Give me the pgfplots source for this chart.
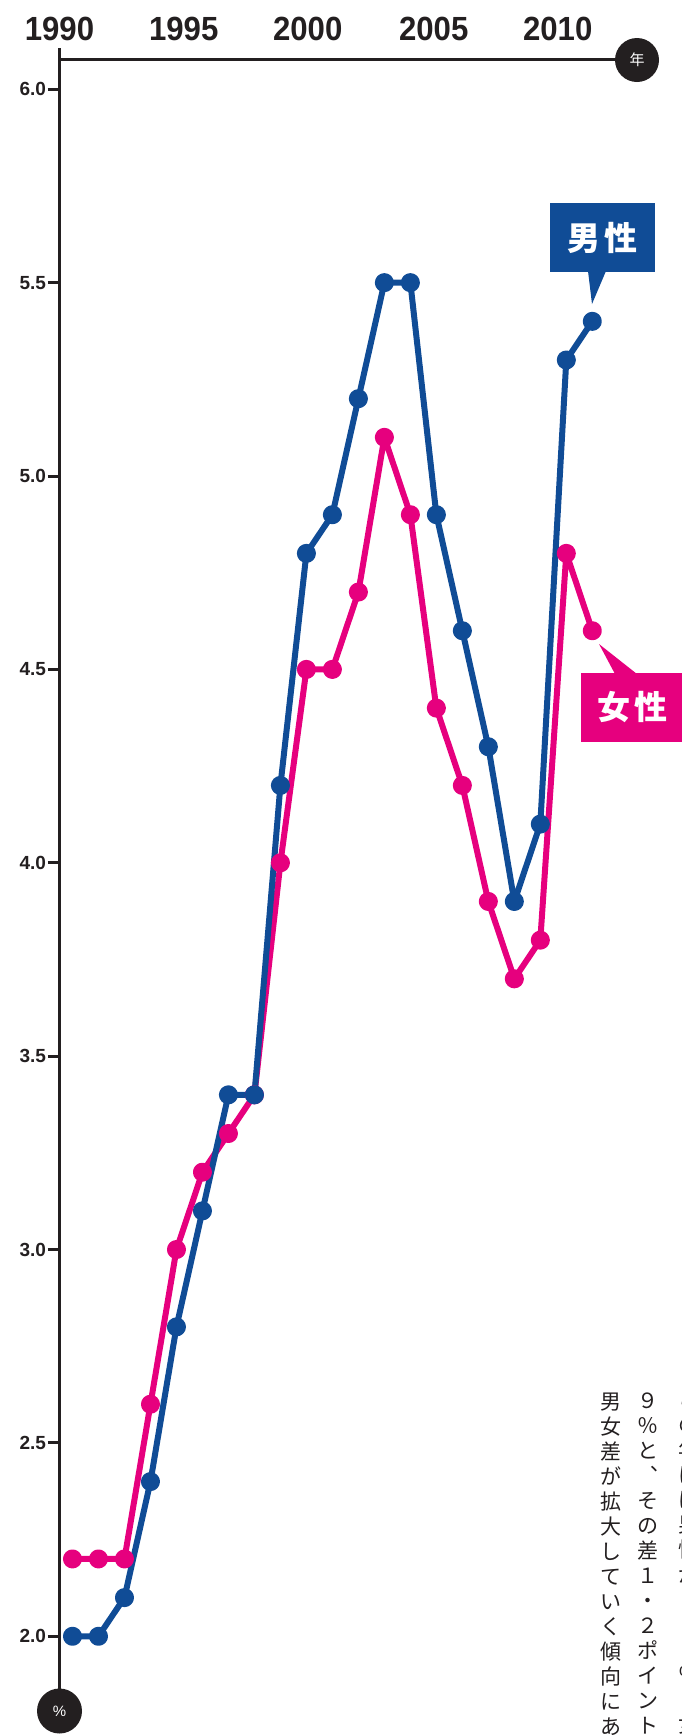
\documentclass[border=0pt]{standalone}
\usepackage{fontspec}
\usepackage{pgfplots}
\pgfplotsset{compat=1.18}
\setmainfont{Liberation Sans}
\newfontfamily\din{Liberation Sans}[FakeStretch=0.93]
\newfontfamily\jp{Noto Sans CJK JP}
\definecolor{mblue}{RGB}{16,76,150}
\definecolor{fpink}{RGB}{230,0,126}
\definecolor{ink}{RGB}{35,31,32}
\begin{document}
\begin{tikzpicture}
\useasboundingbox (0,0) rectangle (681pt,-1735pt);
\begin{axis}[
  at={(59.24pt,-59.5pt)}, anchor=north west,
  x=25.99pt, y=386.75pt,
  xmin=1989.49, xmax=2012.5, ymin=1.8, ymax=6.077,
  axis x line*=top, axis y line*=left,
  axis line style={ink, line width=3.3pt, -},
  clip=false,
  xtick={1989.5,1994.28,1999.05,2003.90,2008.67},
  xticklabels={1990,1995,2000,2005,2010},
  xtick style={draw=none},
  xticklabel style={font=\din\bfseries\fontsize{33.5}{33.5}\selectfont, text=ink, anchor=base, inner sep=0pt, yshift=8pt},
  ytick={2,2.5,3,3.5,4,4.5,5,5.5,6},
  ytick style={line width=3pt, color=ink},
  tick align=outside,
  major tick length=11.5pt,
  yticklabel style={font=\bfseries\fontsize{19}{19}\selectfont, text=ink, anchor=east, inner sep=0pt, xshift=-1.5pt,
    /pgf/number format/.cd, fixed, fixed zerofill, precision=1, assume math mode=true},
]
\addplot[color=fpink, line width=6pt, line join=round, mark=*, mark size=6.5pt, mark options={fill=fpink, draw=none}] coordinates {
(1990,2.2) (1991,2.2) (1992,2.2) (1993,2.6) (1994,3.0) (1995,3.2) (1996,3.3) (1997,3.4) (1998,4.0) (1999,4.5) (2000,4.5)
(2001,4.7) (2002,5.1) (2003,4.9) (2004,4.4) (2005,4.2) (2006,3.9) (2007,3.7) (2008,3.8) (2009,4.8) (2010,4.6)};
\addplot[color=mblue, line width=6pt, line join=round, mark=*, mark size=6.5pt, mark options={fill=mblue, draw=none}] coordinates {
(1990,2.0) (1991,2.0) (1992,2.1) (1993,2.4) (1994,2.8) (1995,3.1) (1996,3.4) (1997,3.4) (1998,4.2) (1999,4.8) (2000,4.9)
(2001,5.2) (2002,5.5) (2003,5.5) (2004,4.9) (2005,4.6) (2006,4.3) (2007,3.9) (2008,4.1) (2009,5.3) (2010,5.4)};
\end{axis}
% axis line extension and end circles
\draw[ink, line width=3.3pt] (59.5pt,-48pt) -- (59.5pt,-1711pt);
\draw[ink, line width=3.3pt] (59.5pt,-59.5pt) -- (637pt,-59.5pt);
\fill[ink] (637pt,-60pt) circle (22pt);
\node[text=white, inner sep=0pt, font=\jp\fontsize{15}{15}\selectfont] at (637pt,-60pt) {年};
\fill[ink] (59.5pt,-1711pt) circle (22.5pt);
\node[text=white, inner sep=0pt, font=\fontsize{15}{15}\selectfont] at (59.5pt,-1711pt) {\%};
% labels
\fill[mblue] (550pt,-203pt) rectangle (655pt,-272pt);
\fill[mblue] (588pt,-271pt) -- (606pt,-271pt) -- (592pt,-304pt) -- cycle;
\node[text=white, inner sep=0pt, font=\jp\bfseries\fontsize{33}{33}\selectfont] at (602.5pt,-237.5pt) {男\hspace{5pt}性};
\fill[fpink] (581pt,-673pt) rectangle (690pt,-742pt);
\fill[fpink] (615pt,-674pt) -- (637pt,-674pt) -- (599pt,-644pt) -- cycle;
\node[text=white, inner sep=0pt, font=\jp\bfseries\fontsize{33}{33}\selectfont] at (632.5pt,-707.5pt) {女\hspace{5pt}性};
% body text (vertical)
\node[anchor=north, inner sep=0pt, align=center, text=ink, font=\jp\fontsize{21}{25}\selectfont] at (611pt,-1393pt)
  {男\\女\\差\\が\\拡\\大\\し\\て\\い\\く\\傾\\向\\に\\あ\\る};
\node[anchor=north, inner sep=0pt, align=center, text=ink, font=\jp\fontsize{21}{25}\selectfont] at (648pt,-1393pt)
  {９\\％\\と\\︑\\そ\\の\\差\\１\\・\\２\\ポ\\イ\\ン\\ト\\で};
\node[anchor=north, inner sep=0pt, align=center, text=ink, font=\jp\fontsize{21}{25}\selectfont] at (689pt,-1393pt)
  {こ\\の\\年\\に\\は\\男\\性\\が\\５\\・\\１\\％\\︑\\女\\性};
\end{tikzpicture}
\end{document}
